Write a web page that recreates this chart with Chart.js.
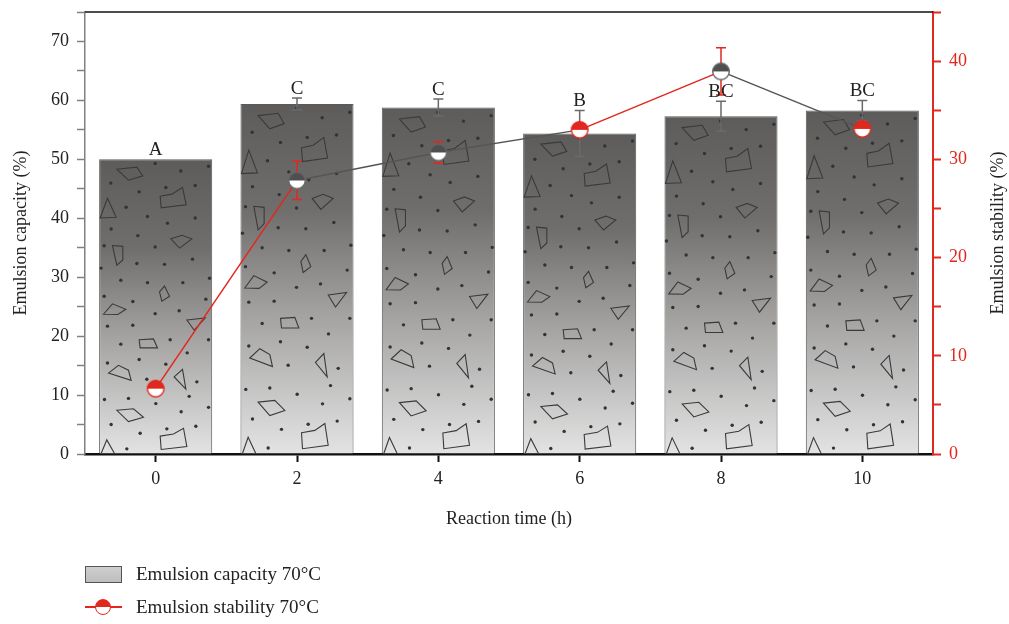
<!DOCTYPE html>
<html>
<head>
<meta charset="utf-8">
<script src="https://cdn.jsdelivr.net/npm/chart.js@4/dist/chart.umd.min.js"></script>
<style>
  body { margin: 0; background: #fff; }
  #wrap { position: relative; width: 1009px; height: 624px; font-family: "Liberation Serif", "DejaVu Serif", serif; color: #222; }
  .leg { position: absolute; left: 85px; font-size: 19px; display: flex; align-items: center; }
  .leg span { margin-left: 14px; }
  .barIcon { width: 35px; height: 15px; border: 1px solid #555; background: linear-gradient(#cfcfcf, #bdbdbd); }
  .lineIcon { position: relative; width: 37px; height: 18px; }
  .lineIcon .ln { position: absolute; left: 0; right: 0; top: 8px; height: 1.5px; background: #e0281e; }
  .lineIcon .dot { position: absolute; left: 10px; top: 1px; width: 14px; height: 14px; border-radius: 50%; border: 1.5px solid #e0281e; background: linear-gradient(#e0281e 50%, #fff 50%); }
</style>
</head>
<body>
<div id="wrap">
  <canvas id="chart"></canvas>
  <div class="leg" style="top:563px"><div class="barIcon"></div><span>Emulsion capacity 70°C</span></div>
  <div class="leg" style="top:596px"><div class="lineIcon"><div class="ln"></div><div class="dot"></div></div><span>Emulsion stability 70°C</span></div>
</div>
<script>
// data
const times = ['0', '2', '4', '6', '8', '10'];
const capacity = [50.0, 59.4, 58.8, 54.4, 57.3, 58.3];
const capacityErr = [0, 1.0, 1.45, 3.9, 2.55, 1.7];
const capacityLetters = ['A', 'C', 'C', 'B', 'BC', 'BC'];
const stability = [6.65, 27.85, 30.7, 33.0, 38.95, 33.1];
const stabilityErr = [0, 1.95, 1.1, 0.3, 2.4, 0.3];

const RED = '#e0281e';
const DARK = '#4f4f4f';
const segColors = [RED, '#555', '#555', RED, '#555'];

function marker(top, edge) {
    const c = document.createElement('canvas');
    c.width = c.height = 22;
    const g = c.getContext('2d');
    g.beginPath(); g.arc(11, 11, 8.3, Math.PI, 0); g.closePath(); g.fillStyle = top; g.fill();
    g.beginPath(); g.arc(11, 11, 8.3, 0, Math.PI); g.closePath(); g.fillStyle = '#fff'; g.fill();
    g.beginPath(); g.arc(11, 11, 8.3, 0, 2 * Math.PI); g.lineWidth = 1.4; g.strokeStyle = edge; g.stroke();
    return c;
}
const redMark = marker(RED, RED);
const darkMark = marker(DARK, '#666');
const pointStyles = [redMark, darkMark, darkMark, redMark, darkMark, redMark];

// texture inside the bars (tile space 339 x 1014, stretched to each bar)
const TW = 339, TH = 1014;
const texDots = [[168,14],[245,40],[328,24],[35,82],[120,112],[200,97],[288,90],[81,165],[145,197],[205,220],
    [288,202],[36,240],[116,263],[168,302],[280,344],[15,298],[113,359],[196,362],[6,375],[65,417],[145,425],
    [251,425],[331,410],[15,472],[101,490],[168,532],[240,522],[25,575],[101,572],[320,482],[65,637],[213,622],
    [328,622],[25,702],[120,690],[200,706],[264,667],[143,758],[293,767],[16,828],[88,824],[170,842],[246,870],
    [328,855],[270,817],[36,914],[123,944],[203,929],[290,920],[83,998]];
const texPolys = [
    [[53,34],[113,27],[131,57],[88,72]],
    [[183,127],[218,120],[250,97],[261,157],[186,167]],
    [[3,202],[25,134],[51,200]],
    [[215,274],[248,262],[278,274],[241,306]],
    [[40,297],[71,300],[71,347],[53,365]],
    [[181,457],[196,437],[211,472],[188,489]],
    [[13,534],[40,498],[80,517],[56,535]],
    [[263,554],[318,547],[285,589]],
    [[120,622],[163,619],[175,650],[123,650]],
    [[28,737],[58,710],[88,727],[96,762]],
    [[225,750],[250,724],[260,792]],
    [[53,865],[103,860],[133,889],[88,904]],
    [[183,954],[223,947],[253,927],[263,990],[186,1000]],
    [[6,1014],[23,967],[46,1014]]
];

const barExtras = {
    id: 'barExtras',
    afterDatasetDraw(chart, args) {
        if (args.index !== 0) return;
        const ctx = chart.ctx;
        const yL = chart.scales.y, yR = chart.scales.y2;
        args.meta.data.forEach((bar, i) => {
            const left = bar.x - bar.width / 2, top = bar.y, h = bar.base - bar.y, w = bar.width;
            ctx.save();
            ctx.beginPath(); ctx.rect(left, top, w, h); ctx.clip();
            ctx.fillStyle = '#333';
            texDots.forEach(d => {
                ctx.beginPath();
                ctx.arc(left + d[0] / TW * w, top + d[1] / TH * h, 1.7, 0, 2 * Math.PI);
                ctx.fill();
            });
            ctx.strokeStyle = '#3a3a3a';
            ctx.lineWidth = 1.1;
            texPolys.forEach(p => {
                ctx.beginPath();
                p.forEach((pt, k) => {
                    const px = left + pt[0] / TW * w, py = top + pt[1] / TH * h;
                    if (k === 0) ctx.moveTo(px, py); else ctx.lineTo(px, py);
                });
                ctx.closePath(); ctx.stroke();
            });
            ctx.restore();
        });
        const drawErr = (x, yScale, v, e, color) => {
            if (!e) return;
            const t = yScale.getPixelForValue(v + e), b = yScale.getPixelForValue(v - e);
            ctx.save();
            ctx.strokeStyle = color; ctx.lineWidth = 1.5;
            ctx.beginPath();
            ctx.moveTo(x, t); ctx.lineTo(x, b);
            ctx.moveTo(x - 5, t); ctx.lineTo(x + 5, t);
            ctx.moveTo(x - 5, b); ctx.lineTo(x + 5, b);
            ctx.stroke();
            ctx.restore();
        };
        args.meta.data.forEach((bar, i) => {
            drawErr(bar.x, yL, capacity[i], capacityErr[i], '#6a6a6a');
            drawErr(bar.x, yR, stability[i], stabilityErr[i], RED);
        });
        ctx.save();
        ctx.fillStyle = '#222';
        ctx.font = '19px "Liberation Serif", serif';
        ctx.textAlign = 'center';
        ctx.textBaseline = 'alphabetic';
        args.meta.data.forEach((bar, i) => {
            const t = yL.getPixelForValue(capacity[i] + capacityErr[i]);
            ctx.fillText(capacityLetters[i], bar.x, t - 4);
        });
        ctx.restore();
    },
    afterDraw(chart) {
        const ctx = chart.ctx, a = chart.chartArea;
        ctx.save();
        ctx.strokeStyle = '#111'; ctx.lineWidth = 1.5;
        ctx.beginPath(); ctx.moveTo(a.left, a.top); ctx.lineTo(a.right, a.top); ctx.stroke();
        ctx.fillStyle = '#222';
        ctx.font = '18px "Liberation Serif", serif';
        ctx.textAlign = 'center'; ctx.textBaseline = 'middle';
        ctx.translate(998, (a.top + a.bottom) / 2);
        ctx.rotate(-Math.PI / 2);
        ctx.fillText('Emulsion stability (%)', 0, 0);
        ctx.restore();
    }
};

const serif = { family: '"Liberation Serif", serif', size: 18 };
const noPad = s => { s.paddingTop = 0; s.paddingBottom = 0; };

new Chart(document.getElementById('chart'), {
    data: {
        labels: times,
        datasets: [{
            type: 'bar',
            label: 'Emulsion capacity 70°C',
            data: capacity,
            yAxisID: 'y',
            order: 1,
            barPercentage: 0.8,
            categoryPercentage: 1,
            borderColor: '#5a5a5a',
            borderWidth: 1,
            backgroundColor: ctx => {
                const chart = ctx.chart;
                if (!chart.chartArea || ctx.type !== 'data') return '#888';
                const y = chart.scales.y;
                const t = y.getPixelForValue(ctx.raw), b = y.getPixelForValue(0);
                const g = chart.ctx.createLinearGradient(0, t, 0, b);
                g.addColorStop(0, '#5d5c5b');
                g.addColorStop(0.3, '#6f6e6d');
                g.addColorStop(0.6, '#a3a2a1');
                g.addColorStop(1, '#e3e3e3');
                return g;
            }
        }, {
            type: 'line',
            label: 'Emulsion stability 70°C',
            data: stability,
            yAxisID: 'y2',
            order: 0,
            borderColor: RED,
            borderWidth: 1.5,
            segment: { borderColor: c => segColors[c.p0DataIndex] },
            pointStyle: pointStyles,
            pointRadius: 8,
            tension: 0
        }]
    },
    options: {
        responsive: true,
        maintainAspectRatio: false,
        animation: false,
        layout: { padding: { top: 12, bottom: 90, left: 0, right: 0 } },
        plugins: { legend: { display: false }, tooltip: { enabled: false } },
        scales: {
            x: {
                offset: true,
                grid: { offset: false, drawOnChartArea: false, tickLength: 8, tickColor: '#111', tickWidth: 2 },
                border: { color: '#111', width: 2.5 },
                ticks: { color: '#222', font: serif, padding: 6, maxRotation: 0 },
                title: { display: true, text: 'Reaction time (h)', color: '#222', font: serif, padding: { top: 6 } },
                afterFit: s => { s.height = 80; }
            },
            y: {
                position: 'left',
                min: 0, max: 75,
                grid: { drawOnChartArea: false, tickLength: 8, tickColor: '#808080', tickWidth: 1.5 },
                border: { color: '#808080', width: 1.5 },
                ticks: { stepSize: 5, color: '#222', font: serif, padding: 8, callback: v => v % 10 === 0 ? v : '' },
                title: { display: true, text: 'Emulsion capacity (%)', color: '#222', font: serif, padding: { top: 10, bottom: 6 } },
                afterFit: s => { s.width = 85; noPad(s); }
            },
            y2: {
                position: 'right',
                min: 0, max: 45,
                grid: { drawOnChartArea: false, tickLength: 8, tickColor: RED, tickWidth: 2 },
                border: { color: RED, width: 2 },
                ticks: { stepSize: 5, color: RED, font: serif, padding: 8, callback: v => v % 10 === 0 ? v : '' },
                afterFit: s => { s.width = 76; noPad(s); }
            }
        }
    },
    plugins: [barExtras]
});
</script>
</body>
</html>
